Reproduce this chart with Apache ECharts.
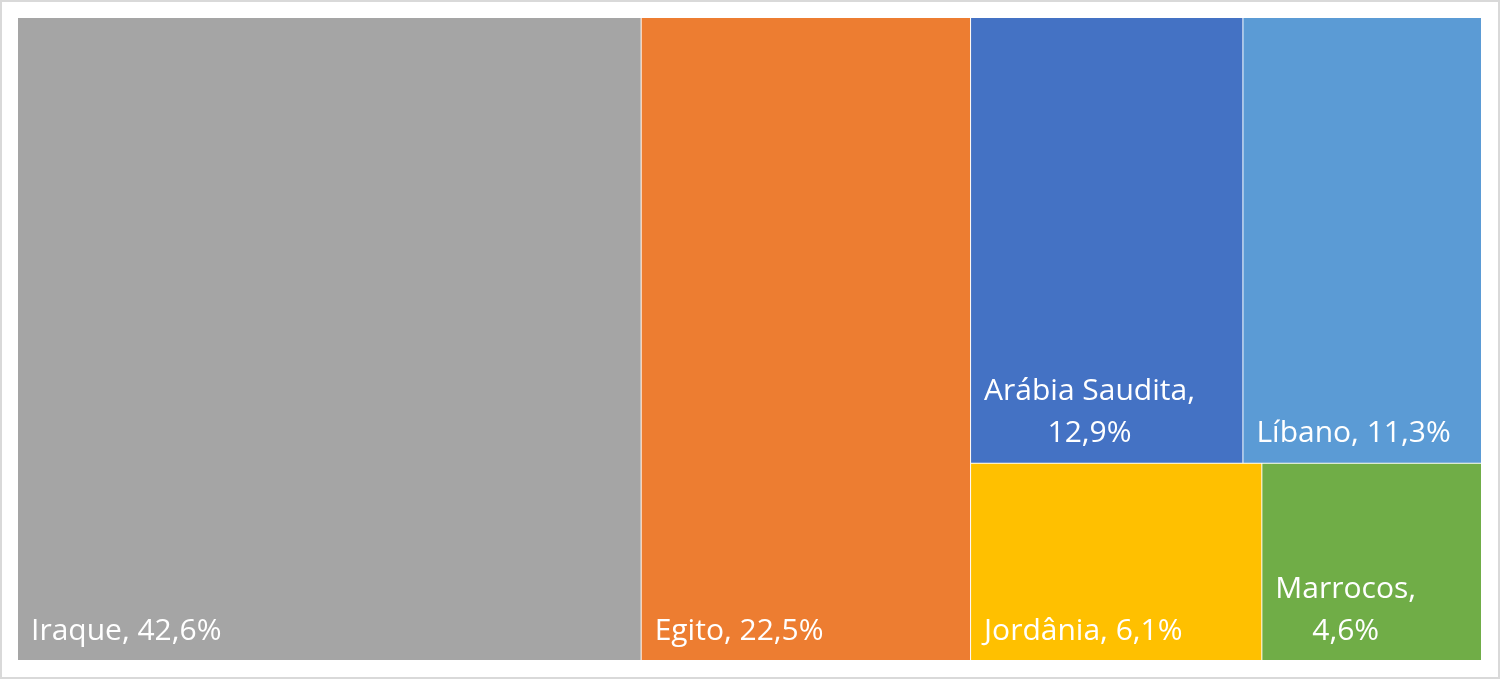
<!DOCTYPE html>
<html>
<head>
<meta charset="utf-8">
<script src="https://cdn.jsdelivr.net/npm/echarts@6/dist/echarts.min.js"></script>
<style>
html,body{margin:0;padding:0;background:#fff;}
#chart{width:1500px;height:680px;}
</style>
</head>
<body>
<div id="chart"></div>
<script>
// ---- data ----
const countries = ['Iraque', 'Egito', 'Arábia Saudita', 'Líbano', 'Jordânia', 'Marrocos'];
const shares = [42.6, 22.5, 12.9, 11.3, 6.1, 4.6];
const colors = ['#A5A5A5', '#ED7D31', '#4472C4', '#5B9BD5', '#FFC000', '#70AD47'];
const wrappedLabels = ['Arábia Saudita', 'Marrocos'];

// ---- styles ----
const FONT_SIZE = 30;
const LINE_HEIGHT = 42;
const PAD_LEFT = 13;
const PAD_BOTTOM = 8;
const FONT_FAMILY = "'Open Sans', 'Noto Sans', sans-serif";

function fmtPct(v) { return v.toFixed(1).replace('.', ',') + '%'; }

const measureCtx = document.createElement('canvas').getContext('2d');
measureCtx.font = FONT_SIZE + 'px ' + FONT_FAMILY;

const rich = {
  t: { color: '#fff', fontSize: FONT_SIZE, fontFamily: FONT_FAMILY, lineHeight: LINE_HEIGHT }
};
countries.forEach((name, i) => {
  if (wrappedLabels.includes(name)) {
    const w1 = measureCtx.measureText(name + ',').width;
    const w2 = measureCtx.measureText(fmtPct(shares[i])).width;
    rich['sp' + i] = { width: Math.max(0, (w1 - w2) / 2), fontSize: FONT_SIZE, fontFamily: FONT_FAMILY, lineHeight: LINE_HEIGHT };
  }
});

const data = countries.map((name, i) => ({
  name: name,
  value: shares[i],
  itemStyle: { color: colors[i] }
}));

const chart = echarts.init(document.getElementById('chart'), null, { renderer: 'canvas' });
chart.setOption({
  animation: false,
  graphic: [{
    type: 'rect',
    silent: true,
    shape: { x: 1, y: 1, width: 1498, height: 677 },
    style: { fill: 'none', stroke: '#d9d9d9', lineWidth: 2 }
  }],
  series: [{
    type: 'treemap',
    left: 18,
    top: 18,
    width: 1463,
    height: 642,
    roam: false,
    nodeClick: false,
    squareRatio: 1,
    breadcrumb: { show: false },
    emphasis: { disabled: true },
    itemStyle: { borderWidth: 0, gapWidth: 1, borderColor: '#ffffff' },
    levels: [
      { itemStyle: { borderWidth: 0, gapWidth: 1, borderColor: '#ffffff' } },
      { itemStyle: { borderWidth: 0, gapWidth: 0 } }
    ],
    label: {
      show: true,
      position: 'insideTopLeft',
      distance: 0,
      padding: [0, 0, 0, PAD_LEFT],
      color: '#fff',
      fontSize: FONT_SIZE,
      fontFamily: FONT_FAMILY,
      lineHeight: LINE_HEIGHT,
      formatter: function (p) {
        const i = countries.indexOf(p.name);
        const val = fmtPct(p.value);
        if (wrappedLabels.includes(p.name)) {
          return '{t|' + p.name + ',}\n{sp' + i + '| }{t|' + val + '}';
        }
        return '{t|' + p.name + ', ' + val + '}';
      },
      rich: rich
    },
    labelLayout: function (params) {
      const idx = params.dataIndex;
      const name = chart.getModel().getSeriesByIndex(0).getData().getName(idx);
      const lines = wrappedLabels.includes(name) ? 2 : 1;
      return {
        x: params.rect.x,
        y: params.rect.y + params.rect.height - PAD_BOTTOM - lines * LINE_HEIGHT,
        align: 'left',
        verticalAlign: 'top'
      };
    },
    data: data
  }]
});
</script>
</body>
</html>
